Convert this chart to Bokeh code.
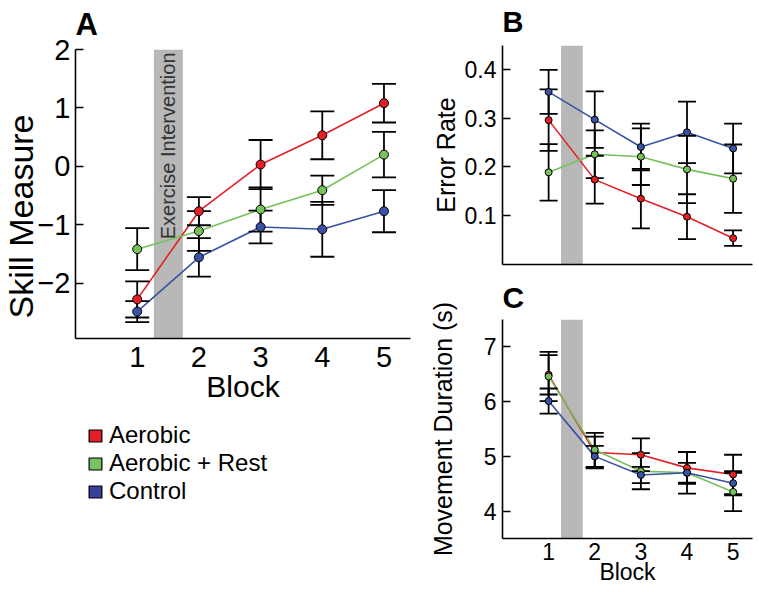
import math
from bokeh.plotting import figure
from bokeh.layouts import row, column
from bokeh.models import (BoxAnnotation, Label, Legend, LegendItem, FixedTicker,
                          Range1d, ColumnDataSource, Title)
from bokeh.embed import file_html
from bokeh.resources import INLINE

FONT = "Liberation Sans"

blocks = [1, 2, 3, 4, 5]
groups = ["Aerobic", "Aerobic + Rest", "Control"]
line_colors = ["#e41f26", "#77c15b", "#3a52a3"]
legend_colors = ["#e21f26", "#78c263", "#37409a"]
intervention = (1.27, 1.74)

# Panel A: skill measure (mean, error)
skill_aerobic = [-2.28, -0.77, 0.03, 0.53, 1.08]
skill_aerobic_err = [0.31, 0.24, 0.42, 0.41, 0.33]
skill_rest = [-1.42, -1.11, -0.74, -0.41, 0.20]
skill_rest_err = [0.36, 0.34, 0.38, 0.25, 0.39]
skill_control = [-2.49, -1.56, -1.04, -1.08, -0.77]
skill_control_err = [0.18, 0.33, 0.28, 0.47, 0.36]
skill_ticks = [-2, -1, 0, 1, 2]
skill_tick_labels = ["\u22122", "\u22121", "0", "1", "2"]

# Panel B: error rate
err_aerobic = [0.296, 0.174, 0.135, 0.098, 0.054]
err_aerobic_sem = [0.063, 0.049, 0.061, 0.046, 0.016]
err_rest = [0.189, 0.226, 0.221, 0.195, 0.176]
err_rest_sem = [0.058, 0.049, 0.058, 0.069, 0.070]
err_control = [0.354, 0.297, 0.241, 0.271, 0.238]
err_control_sem = [0.045, 0.058, 0.048, 0.063, 0.051]
err_ticks = [0.1, 0.2, 0.3, 0.4]

# Panel C: movement duration (s)
dur_aerobic = [6.49, 5.07, 5.03, 4.79, 4.67]
dur_aerobic_err = [0.36, 0.29, 0.30, 0.29, 0.36]
dur_rest = [6.46, 5.12, 4.73, 4.70, 4.35]
dur_rest_err = [0.45, 0.31, 0.33, 0.38, 0.35]
dur_control = [6.01, 5.00, 4.66, 4.70, 4.51]
dur_control_err = [0.23, 0.19, 0.15, 0.18, 0.22]
dur_ticks = [4, 5, 6, 7]


def draw_panel(p, series, marker_size, cap_px):
    srcs = []
    for (ys, es), col in zip(series, line_colors):
        srcs.append(ColumnDataSource(dict(
            x=blocks, y=ys,
            lo=[y - e for y, e in zip(ys, es)],
            hi=[y + e for y, e in zip(ys, es)])))
    for src, col in zip(srcs, line_colors):
        p.line("x", "y", source=src, line_color=col, line_width=1.6)
    for src in srcs:
        p.segment(x0="x", y0="lo", x1="x", y1="hi", source=src,
                  line_color="black", line_width=1.8)
        p.scatter("x", "lo", source=src, marker="dash", size=cap_px,
                  line_color="black", line_width=1.8)
        p.scatter("x", "hi", source=src, marker="dash", size=cap_px,
                  line_color="black", line_width=1.8)
    for src, col in zip(srcs, line_colors):
        p.scatter("x", "y", source=src, marker="circle", size=marker_size,
                  fill_color=col, line_color="black", line_width=1)
    p.add_layout(BoxAnnotation(left=intervention[0], right=intervention[1],
                               fill_color="#b8b8b8", fill_alpha=1.0,
                               line_color=None, level="underlay"))


def style(p, tick_px, tick_len):
    p.outline_line_color = None
    p.xgrid.visible = False
    p.ygrid.visible = False
    p.background_fill_color = "white"
    for ax in list(p.xaxis) + list(p.yaxis):
        ax.axis_line_color = "black"
        ax.axis_line_width = 1.6
        ax.major_tick_line_color = "black"
        ax.major_tick_line_width = 1.6
        ax.minor_tick_line_color = None
        ax.major_label_text_font = FONT
        ax.major_label_text_font_size = f"{tick_px}px"
        ax.major_label_text_color = "black"
        ax.axis_label_text_font = FONT
        ax.axis_label_text_font_style = "normal"
        ax.axis_label_text_color = "black"
    p.yaxis.major_tick_in = tick_len
    p.yaxis.major_tick_out = 0
    p.xaxis.major_tick_in = 0
    p.xaxis.major_tick_out = 0


def panel_title(text, size, standoff):
    return Title(text=text, align="left", vertical_align="top", text_font=FONT,
                 text_font_style="bold", text_font_size=size, text_color="black",
                 text_line_height=0.8, standoff=standoff, offset=0)


def blank(width, height, **kw):
    f = figure(width=width, height=height, x_range=Range1d(0, 1), y_range=Range1d(0, 1),
               output_backend="svg", toolbar_location=None,
               x_axis_type=None, y_axis_type=None, **kw)
    f.outline_line_color = None
    return f


# ---------------- Panel A: y-axis title strip ----------------
pS = blank(34, 414, min_border_left=0, min_border_right=0, min_border_top=46,
           min_border_bottom=76)
pS.add_layout(Label(x=20, y=122, x_units="screen", y_units="screen", text="Skill Measure",
                    angle=math.pi / 2, text_font=FONT, text_font_size="34px",
                    text_color="black", text_align="center", text_baseline="alphabetic"))

# ---------------- Panel A ----------------
pA = figure(width=386, height=414, x_range=Range1d(0, 5.43), y_range=Range1d(-2.95, 2.0),
            output_backend="svg", toolbar_location=None,
            title=panel_title("A", "31px", 12),
            min_border_left=39, min_border_right=10, min_border_top=46, min_border_bottom=76)
style(pA, 29, 8)
draw_panel(pA, [(skill_aerobic, skill_aerobic_err), (skill_rest, skill_rest_err),
                (skill_control, skill_control_err)], 9, 24)
pA.xaxis.ticker = FixedTicker(ticks=blocks)
pA.yaxis.ticker = FixedTicker(ticks=skill_ticks)
pA.yaxis.major_label_overrides = {t: s for t, s in zip(skill_ticks, skill_tick_labels)}
pA.xaxis.axis_label = "Block"
pA.xaxis.axis_label_text_font_size = "30px"
pA.xaxis.major_label_standoff = 8
pA.xaxis.axis_label_standoff = 0
pA.yaxis.major_label_standoff = 5
pA.add_layout(Label(x=sum(intervention) / 2, y=2.0, y_offset=-3,
                    text="Exercise Intervention", angle=math.pi / 2,
                    text_font=FONT, text_font_size="20px", text_color="#333333",
                    text_align="right", text_baseline="middle"))

# ---------------- Legend (below panel A) ----------------
pL = blank(420, 176, min_border_left=87, min_border_top=7, min_border_right=0,
           min_border_bottom=0)
nan = float("nan")
items = []
for g, c in zip(groups, legend_colors):
    r = pL.quad(left=[nan], right=[nan], top=[nan], bottom=[nan], fill_color=c,
                line_color="black", line_width=1.2)
    items.append(LegendItem(label=g, renderers=[r]))
leg = Legend(items=items, location="top_left", orientation="vertical",
             label_text_font=FONT, label_text_font_size="24px", label_text_color="black",
             label_standoff=6, glyph_width=16, glyph_height=15,
             label_height=20, spacing=0, padding=0, margin=0,
             border_line_color=None, background_fill_alpha=0)
pL.add_layout(leg)

# ---------------- Panel B ----------------
pB = figure(width=337, height=277, x_range=Range1d(0, 5.42), y_range=Range1d(0, 0.449),
            output_backend="svg", toolbar_location=None,
            title=panel_title("B", "29px", 11),
            min_border_left=82, min_border_right=5, min_border_top=45, min_border_bottom=13)
style(pB, 23, 8)
draw_panel(pB, [(err_aerobic, err_aerobic_sem), (err_rest, err_rest_sem),
                (err_control, err_control_sem)], 7, 18)
pB.xaxis.ticker = FixedTicker(ticks=[])
pB.yaxis.ticker = FixedTicker(ticks=err_ticks)
pB.yaxis.axis_label = "Error Rate"
pB.yaxis.axis_label_text_font_size = "25px"
pB.yaxis.major_label_standoff = 6
pB.yaxis.axis_label_standoff = 2

# ---------------- Panel C ----------------
pC = figure(width=337, height=313, x_range=Range1d(0, 5.42), y_range=Range1d(3.5, 7.5),
            output_backend="svg", toolbar_location=None,
            title=panel_title("C", "30px", 7),
            min_border_left=82, min_border_right=5, min_border_top=41, min_border_bottom=52)
style(pC, 23, 8)
draw_panel(pC, [(dur_aerobic, dur_aerobic_err), (dur_rest, dur_rest_err),
                (dur_control, dur_control_err)], 7, 18)
pC.xaxis.ticker = FixedTicker(ticks=blocks)
pC.yaxis.ticker = FixedTicker(ticks=dur_ticks)
pC.xaxis.axis_label = "Block"
pC.xaxis.axis_label_text_font_size = "23px"
pC.xaxis.major_label_standoff = 4
pC.xaxis.axis_label_standoff = -4
pC.yaxis.axis_label = "Movement Duration (s)"
pC.yaxis.axis_label_text_font_size = "25px"
pC.yaxis.major_label_standoff = 6
pC.yaxis.axis_label_standoff = 24

layout = row(column(row(pS, pA), pL), column(pB, pC))
open("out.html", "w").write(file_html(layout, INLINE))
